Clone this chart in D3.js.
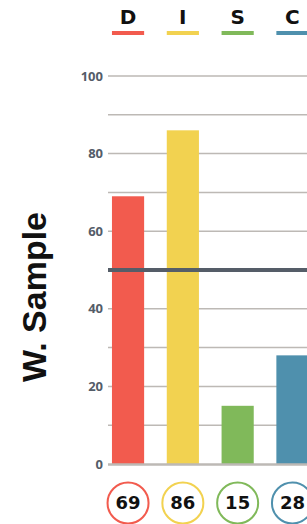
<!DOCTYPE html>
<html><head><meta charset="utf-8">
<script src="https://cdn.jsdelivr.net/npm/d3@7"></script>
<style>body{margin:0;background:#fff}svg{display:block}</style>
</head><body>
<script>
const categories = ["D","I","S","C"];
const values = [69,86,15,28];
const colors = ["#f25b4e","#f2d250","#80b95a","#4f90ad"];
const tickLabels = [0,20,40,60,80,100];
const gridValues = [0,10,20,30,40,50,60,70,80,90,100];
const refValue = 50;
const axisTitle = "W. Sample";

const W=307,H=524;
const svg=d3.select("body").append("svg").attr("width",W).attr("height",H);
const x=d3.scaleBand().domain(categories).range([101,319.5]).paddingInner(0.413).paddingOuter(0.2);
const y=d3.scaleLinear().domain([0,100]).range([464,76]);
const bold="'DejaVu Sans', sans-serif";

// gridlines
svg.append("g").selectAll("line").data(gridValues.filter(v=>v!==0)).join("line")
  .attr("x1",108).attr("x2",W).attr("y1",d=>y(d)).attr("y2",d=>y(d))
  .attr("stroke","#bdb9b5").attr("stroke-width",1.5);

// tick labels
svg.append("g").selectAll("text").data(tickLabels).join("text")
  .attr("x",103).attr("y",d=>y(d)).attr("dy","0.36em").attr("text-anchor","end")
  .attr("font-family","'Open Sans', sans-serif").attr("font-weight","bold").attr("font-size",13).attr("fill","#545c68")
  .text(d=>d);

// bars
svg.append("g").selectAll("rect").data(categories).join("rect")
  .attr("x",d=>x(d)).attr("width",x.bandwidth())
  .attr("y",(d,i)=>y(values[i])).attr("height",(d,i)=>y(0)-y(values[i]))
  .attr("fill",(d,i)=>colors[i]);

// baseline
svg.append("line").attr("x1",108).attr("x2",W).attr("y1",y(0)+0.5).attr("y2",y(0)+0.5)
  .attr("stroke","#bdb9b5").attr("stroke-width",2.5);

// reference line
svg.append("line").attr("x1",108).attr("x2",W).attr("y1",y(refValue)).attr("y2",y(refValue))
  .attr("stroke","#555d68").attr("stroke-width",4);

// header
const hdr=svg.append("g");
hdr.selectAll("text").data(categories).join("text")
  .attr("x",d=>x(d)+x.bandwidth()/2).attr("y",24).attr("text-anchor","middle")
  .attr("font-family",bold).attr("font-weight","bold").attr("font-size",20).attr("fill","#111")
  .text(d=>d);
hdr.selectAll("rect").data(categories).join("rect")
  .attr("x",d=>x(d)).attr("width",x.bandwidth()).attr("y",31).attr("height",4)
  .attr("fill",(d,i)=>colors[i]);

// value circles
const vc=svg.append("g").selectAll("g").data(categories).join("g")
  .attr("transform",d=>`translate(${x(d)+x.bandwidth()/2},503)`);
vc.append("circle").attr("r",20.5).attr("fill","#fff").attr("stroke",(d,i)=>colors[i]).attr("stroke-width",2);
vc.append("text").attr("text-anchor","middle").attr("dy","0.36em")
  .attr("font-family",bold).attr("font-weight","bold").attr("font-size",18).attr("fill","#111")
  .text((d,i)=>values[i]);

// axis title
svg.append("text").attr("transform","translate(46,297) rotate(-90)").attr("text-anchor","middle")
  .attr("font-family","'Liberation Sans', Arial, sans-serif").attr("font-weight","bold").attr("font-size",34).attr("fill","#111")
  .text(axisTitle);
</script>
</body></html>
